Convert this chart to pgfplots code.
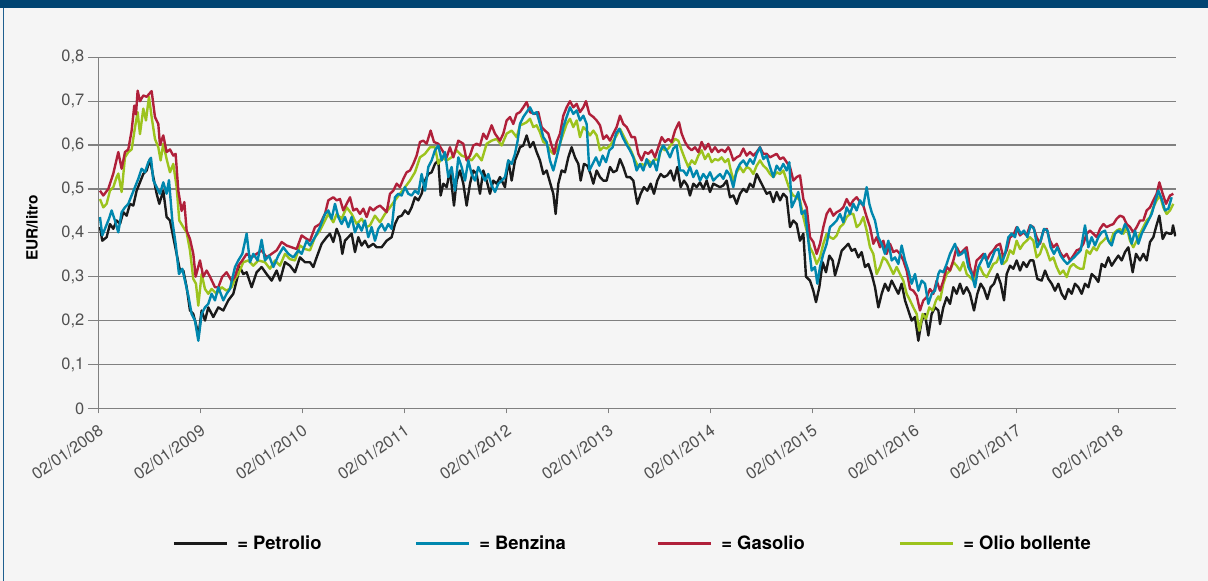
\documentclass[border=0pt]{standalone}
\usepackage{fontspec}
\setmainfont{TeX Gyre Heros}
\usepackage{pgfplots}
\pgfplotsset{compat=1.18}
\definecolor{bgc}{HTML}{F5F5F5}
\definecolor{topband}{HTML}{004472}
\definecolor{sideline}{HTML}{1F5F8F}
\definecolor{cpet}{HTML}{1A1A1A}
\definecolor{cben}{HTML}{0087AE}
\definecolor{cgas}{HTML}{B0203A}
\definecolor{colio}{HTML}{9CC31D}
\definecolor{gridc}{HTML}{808080}
\definecolor{tickc}{HTML}{505050}
\begin{document}
\begin{tikzpicture}
\fill[bgc] (-98.3bp,-172.7bp) rectangle (1109.7bp,408.3bp);
\fill[topband] (-98.3bp,400bp) rectangle (1109.7bp,408.3bp);
\draw[sideline, line width=1.3bp] (-95bp,-172.7bp) -- (-95bp,400bp);
\begin{axis}[
  at={(0bp,0bp)}, anchor=south west,
  scale only axis, width=1077.7bp, height=351bp,
  xmin=0, xmax=3233, ymin=0, ymax=0.8,
  axis x line*=bottom, axis y line*=left,
  axis line style={gridc, line width=1.2bp},
  ymajorgrids, grid style={gridc, line width=1.2bp},
  ytick={0,0.1,0.2,0.3,0.4,0.5,0.6,0.7,0.8},
  xtick={0,306,612,918,1224,1530,1836,2142,2448,2754,3060},
  xticklabels={02/01/2008,02/01/2009,02/01/2010,02/01/2011,02/01/2012,02/01/2013,02/01/2014,02/01/2015,02/01/2016,02/01/2017,02/01/2018},
  tick align=outside, major tick length=10.5bp,
  xtick style={gridc, line width=1.2bp, /pgfplots/major tick length=5bp},
  ytick style={gridc, line width=1.2bp},
  tick label style={font=\fontsize{16.5}{19}\selectfont, text=tickc},
  /pgf/number format/use comma,
  /pgf/number format/fixed,
  /pgf/number format/precision=1,
  /pgf/number format/assume math mode=true,
  xticklabel style={rotate=35, anchor=north east},
  ylabel={EUR/litro},
  ylabel style={font=\bfseries\fontsize{15.5}{17}\selectfont, at={(axis description cs:-0.0615,0.514)}, anchor=center},
  no markers,
  every axis plot/.append style={line width=2.4bp, line join=round},
  legend columns=4,
  legend style={at={(axis description cs:0.0685,-0.384)}, anchor=west, draw=none, fill=none, inner sep=0pt, nodes={inner sep=0pt},
    /tikz/every odd column/.append style={column sep=9bp},
    /tikz/every even column/.append style={column sep=7bp},
    font=\bfseries\fontsize{18.5}{20}\selectfont},
  legend image code/.code={\draw[#1, line width=3bp] (0bp,0bp) -- (53bp,0bp);},
]
% Petrolio
\addplot[cpet, forget plot] coordinates {(5,0.413)(12,0.382)(25,0.39)(35,0.42)(45,0.409)(55,0.428)(65,0.42)(75,0.447)(85,0.439)(95,0.466)(105,0.462)(115,0.496)(125,0.515)(135,0.534)(145,0.542)(155,0.568)(165,0.527)(175,0.489)(183,0.466)(195,0.496)(205,0.436)(215,0.428)(225,0.39)(235,0.352)(245,0.314)(255,0.314)(265,0.276)(275,0.223)(285,0.215)(295,0.185)(300,0.162)(310,0.223)(320,0.20)(330,0.23)(345,0.208)(360,0.23)(375,0.223)(390,0.246)(405,0.261)(415,0.291)(425,0.322)(435,0.306)(445,0.31)(460,0.276)(475,0.31)(490,0.322)(505,0.306)(520,0.291)(535,0.314)(545,0.291)(560,0.333)(575,0.325)(590,0.31)(605,0.344)(620,0.333)
(635,0.333)(645,0.322)(655,0.344)(670,0.375)(685,0.39)(695,0.398)(705,0.379)(715,0.409)(725,0.39)(732,0.352)(740,0.382)(750,0.39)(760,0.398)(770,0.356)(780,0.39)(790,0.371)(800,0.382)(810,0.367)(825,0.375)(835,0.367)(850,0.367)(865,0.382)(880,0.39)(890,0.42)(900,0.436)(910,0.439)(920,0.451)(930,0.443)(940,0.458)(950,0.481)(960,0.474)(970,0.489)(980,0.519)(990,0.534)(1000,0.538)(1010,0.557)(1020,0.565)(1027,0.485)(1035,0.512)(1045,0.504)(1055,0.542)(1067,0.462)(1075,0.519)(1085,0.542)(1095,0.512)(1105,0.462)(1115,0.512)(1125,0.542)(1135,0.534)(1145,0.489)(1155,0.542)(1165,0.519)(1175,0.489)(1185,0.519)(1195,0.512)(1205,0.527)(1220,0.504)(1230,0.565)(1240,0.519)(1250,0.565)(1260,0.584)
(1265,0.595)(1275,0.599)(1285,0.622)(1295,0.595)(1305,0.607)(1315,0.584)(1325,0.565)(1335,0.534)(1345,0.542)(1355,0.515)(1365,0.489)(1372,0.443)(1380,0.512)(1390,0.542)(1400,0.538)(1410,0.572)(1420,0.595)(1430,0.572)(1440,0.557)(1447,0.519)(1457,0.557)(1467,0.553)(1477,0.534)(1485,0.512)(1495,0.542)(1505,0.527)(1515,0.519)(1525,0.519)(1535,0.55)(1545,0.538)(1555,0.542)(1565,0.568)(1575,0.55)(1585,0.527)(1595,0.527)(1605,0.519)(1617,0.466)(1627,0.489)(1637,0.504)(1647,0.496)(1657,0.512)(1667,0.489)(1677,0.519)(1687,0.534)(1697,0.527)(1707,0.531)(1717,0.542)(1727,0.519)(1737,0.55)(1747,0.504)(1757,0.519)(1767,0.508)(1775,0.485)(1785,0.512)(1795,0.504)(1805,0.515)(1815,0.50)(1825,0.519)(1835,0.493)(1845,0.512)(1855,0.508)(1865,0.504)(1875,0.508)(1885,0.519)(1895,0.481)
(1905,0.485)(1915,0.466)(1925,0.489)(1935,0.50)(1945,0.493)(1955,0.512)(1965,0.504)(1975,0.534)(1985,0.519)(1995,0.504)(2005,0.489)(2015,0.493)(2025,0.47)(2035,0.493)(2045,0.474)(2055,0.489)(2065,0.481)(2075,0.413)(2085,0.428)(2095,0.42)(2105,0.382)(2115,0.398)(2123,0.30)(2135,0.291)(2145,0.268)(2153,0.242)(2163,0.276)(2173,0.333)(2183,0.31)(2193,0.348)(2203,0.337)(2210,0.303)(2220,0.329)(2230,0.359)(2240,0.367)(2250,0.375)(2260,0.359)(2270,0.363)(2280,0.344)(2290,0.356)(2300,0.322)(2310,0.329)(2320,0.306)(2330,0.276)(2340,0.23)(2350,0.261)(2360,0.284)(2370,0.268)(2380,0.291)(2390,0.276)(2400,0.261)(2410,0.284)(2420,0.246)(2430,0.223)(2440,0.20)(2450,0.208)(2460,0.154)(2470,0.20)(2480,0.215)(2490,0.166)(2500,0.215)(2510,0.23)(2520,0.223)
(2525,0.192)(2535,0.23)(2545,0.253)(2555,0.238)(2565,0.276)(2575,0.261)(2585,0.284)(2595,0.261)(2605,0.276)(2615,0.261)(2627,0.223)(2637,0.261)(2647,0.284)(2657,0.272)(2667,0.249)(2677,0.276)(2687,0.284)(2697,0.306)(2707,0.284)(2717,0.246)(2725,0.306)(2735,0.325)(2745,0.318)(2755,0.337)(2765,0.314)(2775,0.333)(2785,0.322)(2795,0.337)(2805,0.337)(2817,0.295)(2830,0.291)(2840,0.314)(2850,0.295)(2860,0.284)(2870,0.268)(2880,0.284)(2890,0.261)(2900,0.249)(2910,0.272)(2920,0.261)(2930,0.284)(2940,0.276)(2950,0.261)(2960,0.284)(2970,0.276)(2980,0.306)(2990,0.299)(3000,0.288)(3010,0.329)(3020,0.322)(3030,0.344)(3040,0.325)(3050,0.337)(3060,0.348)(3070,0.337)(3080,0.356)(3090,0.367)(3103,0.31)(3113,0.352)(3125,0.337)(3135,0.352)(3145,0.337)(3155,0.379)(3165,0.39)(3173,0.413)(3183,0.439)(3193,0.386)(3203,0.401)(3213,0.398)(3220,0.398)(3224,0.417)(3231,0.392)};
% Olio bollente
\addplot[colio, forget plot] coordinates {(5,0.477)(15,0.458)(25,0.466)(35,0.496)(45,0.504)(55,0.527)(60,0.535)(70,0.493)(80,0.572)(90,0.584)(100,0.59)(110,0.64)(118,0.675)(125,0.625)(135,0.683)(143,0.656)(152,0.71)(160,0.664)(170,0.614)(180,0.595)(187,0.565)(195,0.603)(205,0.568)(215,0.538)(225,0.557)(235,0.504)(243,0.428)(255,0.413)(265,0.401)(275,0.36)(285,0.295)(293,0.284)(300,0.234)(310,0.306)(320,0.272)(330,0.261)(340,0.272)(355,0.261)(370,0.276)(385,0.268)(400,0.276)(410,0.295)(420,0.306)(435,0.333)(450,0.337)(465,0.325)(480,0.337)(500,0.333)(515,0.318)(530,0.337)(545,0.325)(560,0.352)(575,0.34)(590,0.337)(605,0.371)(620,0.363)
(635,0.36)(650,0.39)(665,0.405)(680,0.428)(690,0.443)(705,0.424)(715,0.443)(730,0.432)(745,0.458)(760,0.443)(775,0.42)(790,0.432)(805,0.413)(815,0.417)(830,0.439)(845,0.424)(860,0.443)(875,0.458)(890,0.474)(905,0.489)(920,0.504)(935,0.519)(950,0.538)(965,0.572)(980,0.58)(995,0.595)(1010,0.595)(1020,0.557)(1030,0.572)(1045,0.565)(1060,0.572)(1075,0.588)(1090,0.576)(1105,0.572)(1120,0.565)(1135,0.58)(1150,0.565)(1165,0.603)(1180,0.61)(1195,0.614)(1210,0.599)(1225,0.626)(1240,0.633)(1255,0.618)
(1265,0.645)(1275,0.648)(1285,0.652)(1295,0.66)(1305,0.641)(1315,0.645)(1325,0.629)(1335,0.607)(1345,0.603)(1355,0.588)(1365,0.58)(1375,0.588)(1385,0.603)(1395,0.626)(1405,0.648)(1415,0.66)(1425,0.641)(1435,0.656)(1445,0.618)(1455,0.641)(1465,0.633)(1475,0.622)(1485,0.633)(1495,0.622)(1505,0.588)(1515,0.595)(1525,0.592)(1535,0.599)(1545,0.61)(1555,0.622)(1565,0.637)(1575,0.622)(1585,0.607)(1600,0.584)(1610,0.565)(1620,0.55)(1630,0.557)(1640,0.553)(1650,0.565)(1660,0.557)(1670,0.568)(1680,0.565)(1690,0.595)(1700,0.588)(1710,0.592)(1720,0.603)(1730,0.614)(1740,0.61)(1750,0.588)(1760,0.568)(1770,0.55)(1780,0.565)(1790,0.557)(1800,0.576)(1810,0.588)(1820,0.568)(1830,0.58)(1840,0.561)(1850,0.568)(1860,0.565)(1870,0.572)(1880,0.561)(1890,0.568)
(1895,0.55)(1905,0.519)(1915,0.538)(1925,0.55)(1935,0.538)(1945,0.55)(1955,0.546)(1965,0.534)(1975,0.553)(1985,0.565)(1995,0.553)(2005,0.546)(2015,0.534)(2025,0.527)(2035,0.538)(2045,0.534)(2055,0.542)(2065,0.519)(2075,0.496)(2085,0.485)(2095,0.481)(2105,0.474)(2115,0.436)(2125,0.405)(2135,0.367)(2145,0.352)(2155,0.329)(2165,0.344)(2175,0.375)(2185,0.398)(2195,0.39)(2205,0.386)(2215,0.394)(2225,0.413)(2235,0.42)(2245,0.436)(2255,0.443)(2265,0.443)(2275,0.413)(2285,0.42)(2295,0.436)(2305,0.405)(2315,0.367)(2325,0.352)(2335,0.306)(2345,0.322)(2355,0.344)(2365,0.337)(2375,0.322)(2385,0.306)(2395,0.322)(2405,0.306)(2415,0.291)(2425,0.261)(2435,0.246)(2445,0.23)(2455,0.215)(2463,0.177)(2473,0.215)(2483,0.204)(2493,0.23)(2503,0.223)(2513,0.246)(2520,0.255)
(2525,0.246)(2535,0.284)(2545,0.306)(2555,0.314)(2565,0.333)(2575,0.325)(2585,0.314)(2595,0.333)(2605,0.306)(2615,0.299)(2625,0.291)(2635,0.314)(2645,0.322)(2655,0.306)(2665,0.299)(2675,0.314)(2685,0.329)(2695,0.333)(2705,0.352)(2715,0.329)(2725,0.337)(2735,0.36)(2745,0.352)(2755,0.382)(2765,0.363)(2775,0.375)(2785,0.382)(2795,0.39)(2805,0.382)(2815,0.344)(2825,0.352)(2835,0.375)(2845,0.36)(2855,0.337)(2865,0.344)(2875,0.322)(2885,0.306)(2895,0.314)(2905,0.299)(2915,0.322)(2925,0.329)(2935,0.322)(2945,0.318)(2955,0.318)(2965,0.36)(2975,0.352)(2985,0.367)(2995,0.36)(3005,0.375)(3015,0.382)(3025,0.39)(3035,0.375)(3045,0.398)(3055,0.405)(3065,0.409)(3075,0.398)(3085,0.413)(3095,0.382)(3105,0.367)(3115,0.382)(3125,0.398)(3135,0.413)(3145,0.428)(3155,0.436)(3165,0.458)(3175,0.474)(3185,0.485)(3195,0.458)(3205,0.443)(3215,0.451)(3225,0.466)};
% Gasolio
\addplot[cgas, forget plot] coordinates {(5,0.496)(15,0.485)(30,0.50)(45,0.535)(60,0.584)(70,0.546)(80,0.584)(90,0.59)(100,0.633)(108,0.69)(113,0.67)(118,0.724)(125,0.70)(135,0.713)(145,0.71)(160,0.723)(170,0.664)(180,0.648)(185,0.60)(195,0.622)(205,0.584)(215,0.59)(225,0.576)(232,0.58)(240,0.496)(250,0.45)(258,0.47)(265,0.405)(275,0.386)(285,0.352)(292,0.30)(305,0.337)(315,0.30)(325,0.314)(335,0.30)(350,0.276)(360,0.276)(372,0.30)(385,0.31)(400,0.29)(410,0.30)(420,0.325)(432,0.337)(445,0.352)(460,0.344)(475,0.352)(490,0.36)(505,0.344)(520,0.352)(535,0.36)(550,0.379)(565,0.371)(580,0.367)(595,0.363)(610,0.394)(625,0.386)
(635,0.382)(650,0.413)(665,0.42)(680,0.443)(690,0.474)(705,0.481)(715,0.474)(725,0.477)(735,0.451)(745,0.466)(755,0.481)(765,0.451)(775,0.455)(785,0.443)(795,0.455)(805,0.436)(815,0.458)(825,0.451)(835,0.458)(845,0.462)(855,0.455)(865,0.447)(875,0.489)(885,0.496)(895,0.512)(905,0.504)(915,0.523)(925,0.538)(935,0.542)(945,0.557)(955,0.576)(965,0.607)(975,0.61)(985,0.603)(997,0.633)(1007,0.607)(1020,0.603)(1035,0.584)(1045,0.572)(1055,0.595)(1065,0.572)(1080,0.61)(1095,0.603)(1105,0.565)(1115,0.576)(1125,0.599)(1135,0.603)(1145,0.599)(1155,0.626)(1165,0.614)(1180,0.645)(1190,0.626)(1205,0.61)(1215,0.626)(1225,0.656)(1235,0.664)(1245,0.648)(1255,0.671)
(1265,0.675)(1275,0.686)(1285,0.698)(1295,0.675)(1310,0.671)(1320,0.675)(1330,0.641)(1340,0.633)(1350,0.626)(1360,0.599)(1368,0.58)(1375,0.607)(1385,0.626)(1395,0.667)(1405,0.686)(1415,0.70)(1425,0.686)(1435,0.694)(1445,0.675)(1455,0.686)(1463,0.70)(1473,0.671)(1485,0.664)(1495,0.656)(1505,0.645)(1515,0.614)(1525,0.622)(1535,0.61)(1545,0.626)(1555,0.641)(1565,0.667)(1575,0.648)(1585,0.641)(1600,0.618)(1610,0.618)(1620,0.58)(1630,0.565)(1640,0.584)(1650,0.58)(1660,0.588)(1670,0.572)(1680,0.595)(1690,0.618)(1700,0.607)(1710,0.614)(1720,0.607)(1730,0.633)(1742,0.652)(1750,0.626)(1760,0.607)(1770,0.595)(1780,0.588)(1790,0.595)(1800,0.584)(1810,0.607)(1820,0.59)(1830,0.603)(1840,0.584)(1850,0.595)(1860,0.584)(1870,0.59)(1880,0.584)(1890,0.595)
(1895,0.588)(1905,0.565)(1915,0.572)(1925,0.576)(1935,0.592)(1945,0.576)(1955,0.584)(1965,0.576)(1975,0.584)(1985,0.595)(1995,0.58)(2005,0.58)(2015,0.572)(2025,0.576)(2035,0.58)(2045,0.568)(2055,0.572)(2065,0.561)(2075,0.55)(2085,0.519)(2095,0.527)(2105,0.531)(2115,0.477)(2125,0.458)(2135,0.39)(2145,0.379)(2155,0.352)(2165,0.375)(2175,0.413)(2185,0.443)(2195,0.455)(2205,0.439)(2215,0.447)(2225,0.451)(2235,0.458)(2245,0.477)(2255,0.462)(2265,0.474)(2275,0.481)(2285,0.47)(2295,0.462)(2305,0.436)(2315,0.413)(2325,0.375)(2335,0.39)(2345,0.367)(2355,0.382)(2365,0.352)(2375,0.375)(2385,0.356)(2395,0.36)(2405,0.352)(2415,0.337)(2425,0.314)(2435,0.272)(2445,0.268)(2455,0.257)(2465,0.223)(2475,0.246)(2485,0.253)(2495,0.272)(2505,0.261)(2515,0.291)
(2525,0.268)(2535,0.291)(2545,0.322)(2555,0.314)(2565,0.337)(2575,0.367)(2585,0.352)(2595,0.36)(2605,0.367)(2615,0.322)(2625,0.299)(2635,0.337)(2645,0.344)(2655,0.352)(2665,0.337)(2675,0.352)(2685,0.36)(2695,0.371)(2705,0.375)(2715,0.344)(2725,0.36)(2735,0.39)(2745,0.394)(2755,0.413)(2765,0.394)(2775,0.401)(2785,0.394)(2795,0.417)(2805,0.413)(2815,0.39)(2825,0.375)(2835,0.405)(2845,0.409)(2855,0.382)(2865,0.367)(2875,0.375)(2885,0.356)(2895,0.344)(2905,0.352)(2915,0.337)(2925,0.348)(2935,0.36)(2945,0.363)(2955,0.375)(2965,0.398)(2975,0.405)(2985,0.398)(2995,0.39)(3005,0.409)(3015,0.42)(3025,0.413)(3035,0.417)(3045,0.42)(3055,0.432)(3065,0.439)(3075,0.436)(3085,0.42)(3095,0.413)(3105,0.401)(3115,0.413)(3125,0.428)(3135,0.428)(3145,0.451)(3155,0.458)(3165,0.474)(3175,0.489)(3183,0.515)(3193,0.489)(3203,0.466)(3215,0.485)(3225,0.489)};
% Benzina
\addplot[cben, forget plot] coordinates {(5,0.436)(12,0.394)(22,0.413)(32,0.432)(40,0.451)(50,0.428)(60,0.401)(70,0.447)(80,0.458)(90,0.466)(100,0.485)(110,0.504)(120,0.523)(130,0.546)(140,0.538)(150,0.561)(158,0.571)(165,0.52)(175,0.504)(185,0.489)(195,0.515)(205,0.489)(212,0.52)(222,0.428)(232,0.375)(242,0.306)(252,0.318)(262,0.284)(270,0.257)(280,0.215)(290,0.20)(300,0.154)(310,0.215)(320,0.23)(330,0.238)(340,0.261)(350,0.246)(360,0.276)(375,0.246)(385,0.261)(395,0.272)(410,0.322)(420,0.337)(432,0.352)(445,0.398)(455,0.333)(465,0.352)(478,0.337)(490,0.384)(500,0.337)(512,0.348)(525,0.322)(540,0.348)(555,0.367)(570,0.352)(585,0.344)(600,0.36)(610,0.352)(625,0.382)
(635,0.371)(650,0.39)(665,0.413)(680,0.443)(690,0.451)(700,0.432)(710,0.466)(720,0.436)(730,0.42)(740,0.436)(750,0.413)(760,0.436)(770,0.401)(780,0.42)(790,0.405)(800,0.428)(810,0.39)(820,0.413)(830,0.382)(840,0.409)(850,0.42)(860,0.405)(870,0.42)(880,0.409)(890,0.481)(900,0.489)(910,0.485)(920,0.504)(930,0.489)(940,0.485)(950,0.496)(960,0.489)(970,0.534)(980,0.496)(990,0.55)(1000,0.565)(1010,0.588)(1020,0.599)(1030,0.565)(1040,0.584)(1050,0.527)(1060,0.55)(1070,0.496)(1080,0.572)(1090,0.55)(1100,0.519)(1110,0.565)(1120,0.534)(1130,0.519)(1140,0.55)(1150,0.534)(1160,0.519)(1170,0.534)(1180,0.508)(1190,0.493)(1200,0.512)(1210,0.519)(1220,0.527)(1230,0.565)(1240,0.557)(1250,0.58)(1258,0.61)
(1265,0.648)(1275,0.664)(1285,0.675)(1295,0.686)(1305,0.671)(1315,0.675)(1325,0.648)(1335,0.618)(1345,0.607)(1355,0.565)(1365,0.542)(1375,0.572)(1385,0.603)(1395,0.641)(1405,0.664)(1415,0.686)(1425,0.671)(1435,0.679)(1445,0.656)(1455,0.667)(1465,0.648)(1473,0.542)(1483,0.557)(1493,0.572)(1503,0.553)(1513,0.576)(1523,0.561)(1533,0.588)(1543,0.595)(1553,0.626)(1563,0.637)(1573,0.618)(1583,0.603)(1595,0.588)(1605,0.572)(1615,0.542)(1625,0.557)(1635,0.542)(1645,0.568)(1655,0.55)(1665,0.565)(1675,0.542)(1685,0.584)(1695,0.599)(1705,0.588)(1715,0.572)(1725,0.592)(1735,0.599)(1745,0.542)(1755,0.542)(1765,0.531)(1775,0.55)(1785,0.527)(1795,0.542)(1805,0.519)(1815,0.534)(1825,0.523)(1835,0.538)(1845,0.519)(1855,0.527)(1865,0.534)(1875,0.523)(1885,0.542)(1895,0.531)
(1905,0.504)(1915,0.542)(1925,0.557)(1935,0.565)(1945,0.553)(1955,0.568)(1965,0.557)(1975,0.58)(1985,0.595)(1995,0.568)(2005,0.576)(2015,0.55)(2025,0.527)(2035,0.553)(2045,0.542)(2055,0.557)(2065,0.542)(2073,0.561)(2080,0.458)(2090,0.474)(2100,0.493)(2110,0.443)(2120,0.451)(2130,0.382)(2140,0.314)(2150,0.322)(2157,0.284)(2165,0.322)(2175,0.352)(2185,0.375)(2195,0.413)(2205,0.42)(2215,0.428)(2225,0.443)(2235,0.424)(2245,0.458)(2255,0.443)(2265,0.466)(2275,0.451)(2285,0.474)(2295,0.462)(2305,0.504)(2313,0.466)(2320,0.447)(2330,0.428)(2340,0.39)(2350,0.375)(2360,0.352)(2370,0.382)(2380,0.337)(2390,0.344)(2400,0.329)(2410,0.371)(2420,0.337)(2430,0.314)(2440,0.284)(2450,0.306)(2460,0.268)(2470,0.291)(2480,0.284)(2490,0.238)(2500,0.261)(2510,0.268)(2520,0.306)
(2525,0.314)(2535,0.31)(2545,0.329)(2555,0.352)(2570,0.375)(2580,0.348)(2590,0.352)(2600,0.36)(2610,0.322)(2620,0.306)(2630,0.276)(2640,0.322)(2650,0.337)(2660,0.352)(2670,0.322)(2680,0.34)(2690,0.36)(2700,0.363)(2710,0.329)(2720,0.352)(2730,0.39)(2740,0.398)(2750,0.39)(2757,0.413)(2767,0.398)(2777,0.405)(2787,0.39)(2797,0.417)(2807,0.409)(2817,0.367)(2827,0.382)(2837,0.409)(2847,0.405)(2857,0.367)(2867,0.352)(2877,0.367)(2887,0.348)(2897,0.337)(2907,0.329)(2917,0.337)(2927,0.344)(2937,0.352)(2947,0.36)(2960,0.417)(2970,0.367)(2980,0.39)(2990,0.371)(3000,0.39)(3010,0.401)(3020,0.405)(3030,0.382)(3040,0.371)(3050,0.398)(3060,0.405)(3070,0.398)(3080,0.42)(3090,0.405)(3100,0.375)(3110,0.405)(3120,0.375)(3130,0.398)(3140,0.413)(3150,0.428)(3160,0.443)(3170,0.47)(3180,0.496)(3190,0.477)(3200,0.451)(3210,0.455)(3220,0.481)};
\addlegendimage{cpet}
\addlegendentry{\makebox[170bp][l]{= Petrolio}}
\addlegendimage{cben}
\addlegendentry{\makebox[170bp][l]{= Benzina}}
\addlegendimage{cgas}
\addlegendentry{\makebox[170bp][l]{= Gasolio}}
\addlegendimage{colio}
\addlegendentry{\makebox[170bp][l]{= Olio bollente}}
\end{axis}
\pgfresetboundingbox
\useasboundingbox (-98.3bp,-172.7bp) rectangle (1109.7bp,408.3bp);
\end{tikzpicture}
\end{document}
